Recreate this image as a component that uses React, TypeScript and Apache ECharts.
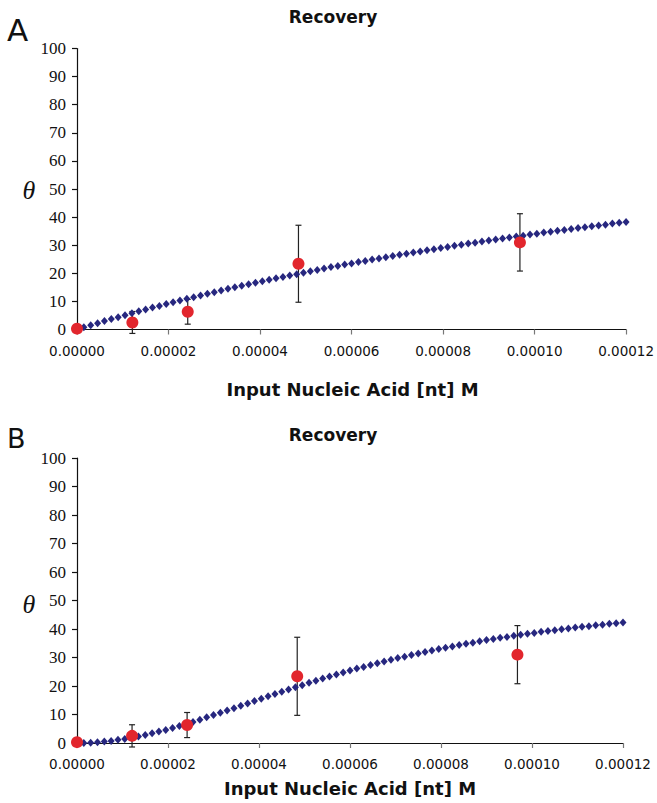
import React, { useEffect, useRef } from "react";
import * as echarts from "echarts";

// Curve x positions (µM of nucleotide), evenly spaced markers
const curveX = [0,1.5,3,4.5,6,7.5,9,10.5,12,13.5,15,16.5,18,19.5,21,22.5,24,25.5,27,28.5,30,31.5,33,34.5,36,37.5,39,40.5,42,43.5,45,46.5,48,49.5,51,52.5,54,55.5,57,58.5,60,61.5,63,64.5,66,67.5,69,70.5,72,73.5,75,76.5,78,79.5,81,82.5,84,85.5,87,88.5,90,91.5,93,94.5,96,97.5,99,100.5,102,103.5,105,106.5,108,109.5,111,112.5,114,115.5,117,118.5,120];

// Panel A fitted curve (theta)
const curveA = [0,0.8,1.5,2.2,3.0,3.7,4.4,5.1,5.8,6.5,7.1,7.8,8.4,9.1,9.7,10.3,10.9,11.5,12.1,12.7,13.3,13.9,14.5,15.0,15.6,16.1,16.6,17.2,17.7,18.2,18.7,19.2,19.7,20.2,20.7,21.2,21.7,22.2,22.6,23.1,23.5,24.0,24.4,24.9,25.3,25.7,26.2,26.6,27.0,27.4,27.8,28.2,28.6,29.0,29.4,29.8,30.2,30.6,30.9,31.3,31.7,32.0,32.4,32.7,33.1,33.4,33.8,34.1,34.5,34.8,35.1,35.4,35.8,36.1,36.4,36.7,37.0,37.3,37.7,38.0,38.3];

// Panel B fitted curve (theta)
const curveB = [0,0.0,0.1,0.3,0.5,0.7,1.1,1.4,1.8,2.3,2.8,3.4,4.0,4.6,5.3,6.0,6.7,7.4,8.2,9.0,9.8,10.6,11.4,12.2,13.1,13.9,14.7,15.5,16.4,17.2,18.0,18.8,19.6,20.3,21.1,21.8,22.6,23.3,24.0,24.7,25.4,26.1,26.7,27.4,28.0,28.6,29.2,29.8,30.3,30.9,31.4,31.9,32.5,33.0,33.4,33.9,34.4,34.8,35.2,35.7,36.1,36.5,36.9,37.2,37.6,38.0,38.3,38.6,39.0,39.3,39.6,39.9,40.2,40.5,40.8,41.0,41.3,41.5,41.8,42.0,42.3];

// Measured recovery points (same in both panels)
const pointX = [0, 12.1, 24.2, 48.4, 96.8];
const pointY = [0.3, 2.5, 6.3, 23.4, 31.0];
const pointErr = [0, 3.9, 4.4, 13.7, 10.2];

const xTicks = ["0.00000", "0.00002", "0.00004", "0.00006", "0.00008", "0.00010", "0.00012"];
const chartTitle = "Recovery";
const xTitle = "Input Nucleic Acid [nt] M";
const panelLabels = ["A", "B"];

const UM = 1e-6;

export default function App() {
  const ref = useRef<HTMLDivElement>(null);
  useEffect(() => {
    document.body.style.margin = "0";
    const chart = echarts.init(ref.current!, null, { renderer: "svg" });

    const grids = [
      { left: 77, top: 48.5, width: 551, height: 281 },
      { left: 77, top: 458, width: 546, height: 285 },
    ];

    const xAxis: any[] = [];
    const yAxis: any[] = [];
    [0, 1].forEach((i) => {
      xAxis.push({
        gridIndex: i,
        type: "value",
        min: 0,
        max: 0.00012,
        interval: 0.00002,
        axisLine: { lineStyle: { color: "#111", width: 1.2 } },
        axisTick: { length: 5, lineStyle: { color: "#777", width: 1.2 } },
        axisLabel: {
          fontSize: 13.5,
          fontFamily: "DejaVu Sans",
          color: "#111",
          margin: 14,
          formatter: (v: number) => xTicks[Math.round(v / 0.00002)],
        },
        splitLine: { show: false },
      });
      yAxis.push({
        gridIndex: i,
        type: "value",
        min: 0,
        max: 100,
        interval: 10,
        axisLine: { show: true, lineStyle: { color: "#111", width: 1.2 } },
        axisTick: { show: true, length: 5, lineStyle: { color: "#111", width: 1.2 } },
        axisLabel: { fontSize: 17, fontFamily: "Liberation Serif", color: "#111", margin: 11 },
        splitLine: { show: false },
      });
    });

    const errData = pointX
      .map((x, i) => [x * UM, pointY[i] - pointErr[i], pointY[i] + pointErr[i], pointErr[i]])
      .filter((d) => d[3] > 0);

    const renderErr = (params: any, api: any) => {
      const x = api.value(0);
      const lo = api.coord([x, api.value(1)]);
      const hi = api.coord([x, api.value(2)]);
      const w = 3;
      const style = { stroke: "#222", lineWidth: 1.2 };
      return {
        type: "group",
        children: [
          { type: "line", shape: { x1: lo[0], y1: lo[1], x2: hi[0], y2: hi[1] }, style },
          { type: "line", shape: { x1: hi[0] - w, y1: hi[1], x2: hi[0] + w, y2: hi[1] }, style },
          { type: "line", shape: { x1: lo[0] - w, y1: lo[1], x2: lo[0] + w, y2: lo[1] }, style },
        ],
      };
    };

    const curves = [curveA, curveB];
    const series: any[] = [];
    curves.forEach((c, i) => {
      series.push({
        type: "custom",
        xAxisIndex: i,
        yAxisIndex: i,
        renderItem: renderErr,
        encode: { x: 0, y: [1, 2] },
        data: errData,
        z: 1,
      });
      series.push({
        type: "scatter",
        xAxisIndex: i,
        yAxisIndex: i,
        symbol: "diamond",
        symbolSize: [7, 8],
        itemStyle: { color: "#27277f", opacity: 1 },
        data: curveX.map((x, j) => [x * UM, c[j]]),
        z: 2,
      });
      series.push({
        type: "scatter",
        xAxisIndex: i,
        yAxisIndex: i,
        symbol: "circle",
        symbolSize: 12,
        itemStyle: { color: "#e2262d", opacity: 1 },
        data: pointX.map((x, j) => [x * UM, pointY[j]]),
        z: 3,
      });
    });

    const graphic: any[] = [];
    const panelTitleY = [17, 435];
    const axisTitleY = [389, 788];
    const thetaY = [190, 604];
    const letterY = [30, 438];
    const letterSize = [31, 27];
    [0, 1].forEach((i) => {
      graphic.push({
        type: "text",
        x: 333,
        y: panelTitleY[i],
        style: { text: chartTitle, fontSize: 17, fontWeight: "bold", fontFamily: "DejaVu Sans", fill: "#111", textAlign: "center", textVerticalAlign: "middle" },
      });
      graphic.push({
        type: "text",
        x: grids[i].left + grids[i].width / 2,
        y: axisTitleY[i],
        style: { text: xTitle, fontSize: 18, fontWeight: "bold", fontFamily: "DejaVu Sans", fill: "#111", textAlign: "center", textVerticalAlign: "middle" },
      });
      graphic.push({
        type: "text",
        x: 29,
        y: thetaY[i],
        style: { text: "θ", fontSize: 26, fontStyle: "italic", fontFamily: "Liberation Serif", fill: "#111", textAlign: "center", textVerticalAlign: "middle" },
      });
      graphic.push({
        type: "text",
        x: 7,
        y: letterY[i],
        style: { text: panelLabels[i], fontSize: letterSize[i], fontFamily: "DejaVu Sans", fill: "#111", textAlign: "left", textVerticalAlign: "middle" },
      });
    });

    chart.setOption({
      animation: false,
      backgroundColor: "#fff",
      grid: grids,
      xAxis,
      yAxis,
      series,
      graphic,
    });
    return () => chart.dispose();
  }, []);
  return <div ref={ref} style={{ width: 657, height: 803 }} />;
}
